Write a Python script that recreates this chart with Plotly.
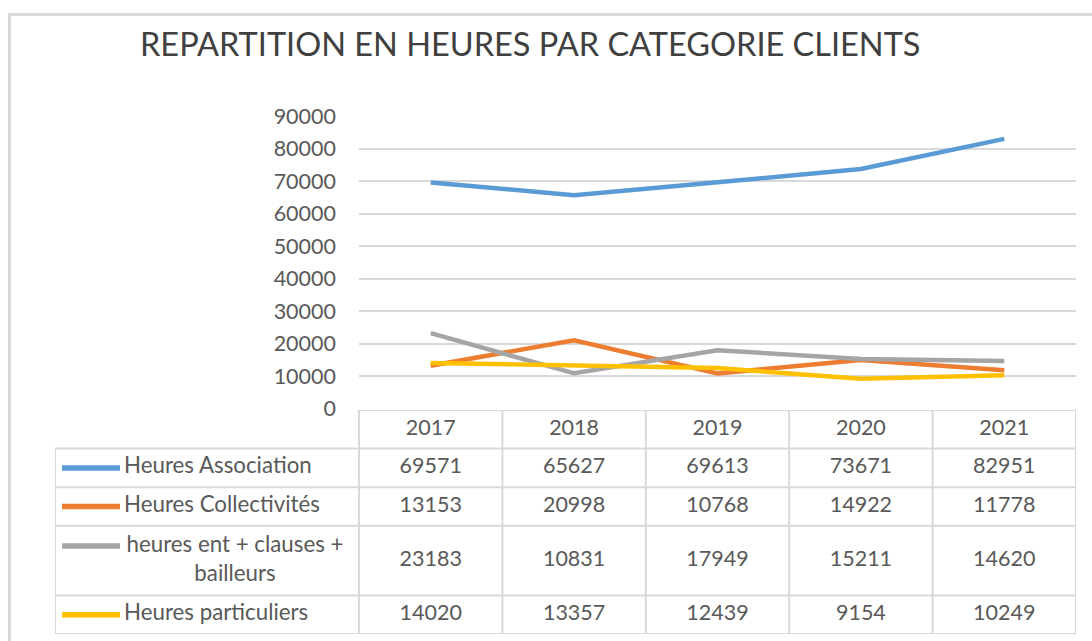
import plotly.graph_objects as go

# ---------------- data ----------------
years = ["2017", "2018", "2019", "2020", "2021"]
series_names = ["Heures Association", "Heures Collectivités",
                "heures ent + clauses +<br>bailleurs", "Heures particuliers"]
heures_association = [69571, 65627, 69613, 73671, 82951]
heures_collectivites = [13153, 20998, 10768, 14922, 11778]
heures_ent_clauses_bailleurs = [23183, 10831, 17949, 15211, 14620]
heures_particuliers = [14020, 13357, 12439, 9154, 10249]
y_ticks = [0, 10000, 20000, 30000, 40000, 50000, 60000, 70000, 80000, 90000]
title_text = "REPARTITION EN HEURES PAR CATEGORIE CLIENTS"

series_values = [heures_association, heures_collectivites,
                 heures_ent_clauses_bailleurs, heures_particuliers]
colors = ["#5B9BD5", "#ED7D31", "#A5A5A5", "#FFC000"]

# ---------------- layout geometry (px) ----------------
W, H = 1092, 641
FONT = "Lato"
TXT = "#595959"
GRID = "#D9D9D9"
FS = 21.5
FS_LAB = 22.3
plot_left, plot_right = 359, 1076
plot_top, plot_bottom = 116, 408.5
tab_left, tab_top, tab_bottom = 55, 410, 634
col_w = (plot_right - plot_left) / len(years)
lab_w = (plot_left - tab_left) / col_w          # label column width in category units
row_units = [1, 1, 1, 1.8, 1]                    # header + 4 series rows
total_units = sum(row_units)


def px2u(px):
    return -0.5 - lab_w + (px - tab_left) / col_w


fig = go.Figure()

# ---------------- chart lines ----------------
for name, vals, c in zip(series_names, series_values, colors):
    fig.add_trace(go.Scatter(x=list(range(len(years))), y=vals, mode="lines",
                             line=dict(color=c, width=4.5), name=name.replace("<br>", " "),
                             xaxis="x", yaxis="y", hoverinfo="skip", showlegend=False))

# ---------------- table ----------------
bounds = [0]
for r in row_units:
    bounds.append(bounds[-1] + r)
xl = -0.5 - lab_w
xr = len(years) - 0.5
bx, by = [], []
for i, b in enumerate(bounds):
    bx += [(-0.5 if i == 0 else xl), xr, None]
    by += [b, b, None]
for k in range(len(years) + 1):
    bx += [k - 0.5, k - 0.5, None]
    by += [0, bounds[-1], None]
bx += [xl, xl, None]
by += [bounds[1], bounds[-1], None]
fig.add_trace(go.Scatter(x=bx, y=by, mode="lines", line=dict(color=GRID, width=2),
                         xaxis="x2", yaxis="y2", hoverinfo="skip", showlegend=False))

fig.add_trace(go.Scatter(x=list(range(len(years))), y=[(bounds[0] + bounds[1]) / 2] * len(years),
                         mode="text", text=years, textposition="middle center",
                         textfont=dict(family=FONT, size=FS, color=TXT),
                         xaxis="x2", yaxis="y2", hoverinfo="skip", showlegend=False))

sw_x0, sw_x1 = px2u(62), px2u(120)
lab_x = px2u(124)
lab_cx = px2u(235)
for i, (name, vals, c) in enumerate(zip(series_names, series_values, colors)):
    r0, r1 = bounds[i + 1], bounds[i + 2]
    yc = (r0 + r1) / 2
    multiline = "<br>" in name
    ysw = r0 + 0.52 if multiline else yc
    fig.add_trace(go.Scatter(x=[sw_x0, sw_x1], y=[ysw, ysw], mode="lines",
                             line=dict(color=c, width=5.5),
                             xaxis="x2", yaxis="y2", hoverinfo="skip", showlegend=False))
    fig.add_trace(go.Scatter(x=[lab_cx if multiline else lab_x], y=[yc], mode="text", text=[name],
                             textposition="middle center" if multiline else "middle right",
                             textfont=dict(family=FONT, size=FS_LAB, color=TXT),
                             xaxis="x2", yaxis="y2", hoverinfo="skip", showlegend=False))
    fig.add_trace(go.Scatter(x=list(range(len(years))), y=[yc] * len(years), mode="text",
                             text=[str(v) for v in vals], textposition="middle center",
                             textfont=dict(family=FONT, size=FS, color=TXT),
                             xaxis="x2", yaxis="y2", hoverinfo="skip", showlegend=False))

# ---------------- layout ----------------
fig.update_layout(
    width=W, height=H,
    margin=dict(l=0, r=0, t=0, b=0, pad=0, autoexpand=False),
    paper_bgcolor="white", plot_bgcolor="white",
    font=dict(family=FONT, color=TXT),
    title=dict(text=title_text, x=140 / W, xanchor="left", y=1 - 45 / H, yanchor="middle",
               font=dict(family=FONT, size=32.5, color="#404040")),
    xaxis=dict(domain=[plot_left / W, plot_right / W], range=[-0.5, len(years) - 0.5],
               showgrid=False, zeroline=False, showticklabels=False, showline=False,
               automargin=False, fixedrange=True),
    yaxis=dict(domain=[1 - plot_bottom / H, 1 - plot_top / H], range=[0, 90000],
               tickvals=y_ticks, ticktext=[str(v) for v in y_ticks],
               showgrid=True, gridcolor=GRID, gridwidth=2, zeroline=False, showline=False,
               ticks="", ticklabelstandoff=22, automargin=False,
               tickfont=dict(family=FONT, size=FS, color=TXT), fixedrange=True),
    xaxis2=dict(domain=[tab_left / W, plot_right / W], range=[xl, xr], anchor="y2",
                showgrid=False, zeroline=False, showticklabels=False, showline=False,
                automargin=False, fixedrange=True),
    yaxis2=dict(domain=[1 - tab_bottom / H, 1 - tab_top / H], range=[total_units, 0], anchor="x2",
                showgrid=False, zeroline=False, showticklabels=False, showline=False,
                automargin=False, fixedrange=True),
    shapes=[dict(type="rect", xref="paper", yref="paper",
                 x0=9.5 / W, x1=1.05, y0=-0.05, y1=1 - 14.5 / H,
                 line=dict(color=GRID, width=3), layer="below")],
)

fig.write_html("out.html", config={"displayModeBar": False},
               post_script="document.body.style.margin='0';document.body.style.overflow='hidden';")
